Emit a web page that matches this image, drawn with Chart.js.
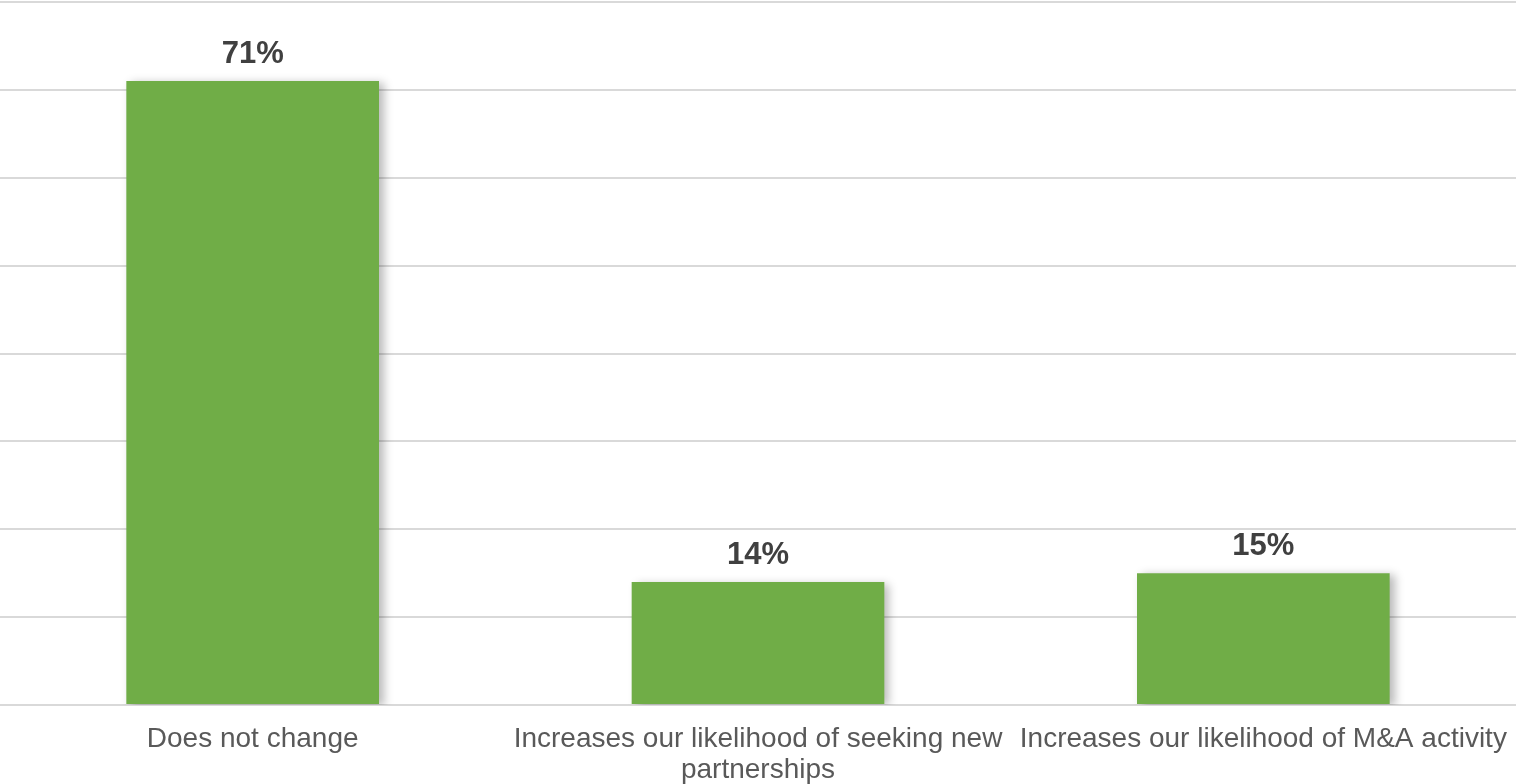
<!DOCTYPE html>
<html>
<head>
<meta charset="utf-8">
<script src="https://cdn.jsdelivr.net/npm/chart.js@4"></script>
<style>
  html, body { margin: 0; padding: 0; background: #ffffff; }
  #wrap { width: 1516px; height: 784px; }
</style>
</head>
<body>
<div id="wrap"><canvas id="chart" width="1516" height="784"></canvas></div>
<script>
// Survey responses (share of respondents, %)
const categories = [
  'Does not change',
  ['Increases our likelihood of seeking new', 'partnerships'],
  'Increases our likelihood of M&A activity'
];
const shares = [71, 14, 15];
const valueLabels = ['71%', '14%', '15%'];

const BAR_GREEN = '#70AD47';
const GRID_GREY = '#d9d9d9';

// Soft drop shadow behind the bars
const barShadow = {
  id: 'barShadow',
  beforeDatasetDraw(chart) {
    const ctx = chart.ctx;
    ctx.save();
    ctx.shadowColor = 'rgba(0,0,0,0.28)';
    ctx.shadowBlur = 9;
    ctx.shadowOffsetX = 5;
    ctx.shadowOffsetY = 2;
  },
  afterDatasetDraw(chart) {
    chart.ctx.restore();
  }
};

// Value labels above each bar
const valueLabelPlugin = {
  id: 'valueLabels',
  afterDatasetsDraw(chart) {
    const ctx = chart.ctx;
    const meta = chart.getDatasetMeta(0);
    ctx.save();
    ctx.font = 'bold 31px "Liberation Sans", Arial, sans-serif';
    ctx.fillStyle = '#404040';
    ctx.textAlign = 'center';
    ctx.textBaseline = 'alphabetic';
    meta.data.forEach((bar, i) => {
      ctx.fillText(valueLabels[i], bar.x, bar.y - 18);
    });
    ctx.restore();
  }
};

new Chart(document.getElementById('chart'), {
  type: 'bar',
  data: {
    labels: categories,
    datasets: [{
      data: shares,
      backgroundColor: BAR_GREEN,
      borderWidth: 0,
      barPercentage: 0.5,
      categoryPercentage: 1.0
    }]
  },
  options: {
    responsive: false,
    animation: false,
    devicePixelRatio: 1,
    layout: { padding: { top: 2, left: 0, right: 0, bottom: 0 } },
    plugins: {
      legend: { display: false },
      tooltip: { enabled: false }
    },
    scales: {
      x: {
        grid: { display: false },
        border: { display: true, color: GRID_GREY, width: 2 },
        ticks: {
          color: '#595959',
          font: { family: '"Liberation Sans", Arial, sans-serif', size: 28, lineHeight: 1.1 },
          padding: 11,
          maxRotation: 0,
          autoSkip: false
        },
        afterFit(scale) {
          scale.height = 79;
          scale.paddingLeft = 0;
          scale.paddingRight = 0;
        }
      },
      y: {
        min: 0,
        max: 80,
        border: { display: false },
        grid: { color: GRID_GREY, lineWidth: 2, drawTicks: false },
        ticks: { display: false, stepSize: 10 },
        afterFit(scale) { scale.width = 0; }
      }
    }
  },
  plugins: [barShadow, valueLabelPlugin]
});
</script>
</body>
</html>
